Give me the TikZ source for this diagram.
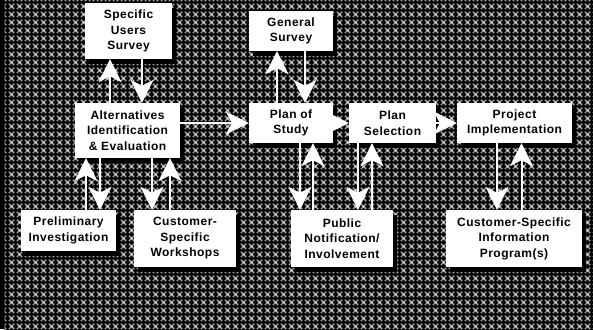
\documentclass[tikz,border=0pt]{standalone}
\usepackage{fontspec}
\setmainfont{Liberation Sans}[LetterSpace=4]
\usetikzlibrary{arrows.meta,patterns.meta}

% woven halftone used as the backdrop
\tikzdeclarepattern{
  name=weave,
  type=colored,
  bounding box={(0pt,0pt) and (8pt,8pt)},
  tile size={(8pt,8pt)},
  code={
    \fill[black] (0pt,0pt) rectangle (8pt,8pt);
    \draw[black!35, line width=1.4pt] (1pt,1pt) -- (7pt,7pt) (1pt,7pt) -- (7pt,1pt);
    \fill[black!5] (4pt,4pt) circle (1pt);
  }
}

\pgfdeclarelayer{bg}
\pgfdeclarelayer{shade}
\pgfdeclarelayer{links}
\pgfsetlayers{bg,shade,links,main}

\begin{document}
\begin{tikzpicture}[x=1pt,y=-1pt,
  box/.style={fill=white, align=center, inner sep=0pt,
    font=\bfseries\fontsize{12}{15.5}\selectfont},
  link/.style={draw=white, line width=2pt,
    -{Stealth[length=23pt,width=23pt,inset=6pt]}},
  shadowbox/.style={fill=black}]

\useasboundingbox (0,0) rectangle (593,329);

\begin{pgfonlayer}{bg}
  \fill[black] (0,0) rectangle (593,329);
  \fill[pattern=weave] (4.5,0) rectangle (593,329);
\end{pgfonlayer}

% process boxes
\node[box, minimum width=87pt,  minimum height=56pt] (survey) at (128.5,31)  {Specific\\Users\\Survey};
\node[box, minimum width=105pt, minimum height=55pt] (alt)    at (127.5,130.5) {Alternatives\\Identification\\\& Evaluation};
\node[box, minimum width=84pt,  minimum height=40pt] (gen)    at (291,31)    {General\\Survey};
\node[box, minimum width=84pt,  minimum height=40pt] (study)  at (291,123)   {Plan of\\Study};
\node[box, minimum width=87pt,  minimum height=40pt] (sel)    at (392.5,123) {Plan\\Selection};
\node[box, minimum width=115pt, minimum height=40pt] (impl)   at (514.5,123) {Project\\Implementation};
\node[box, minimum width=95pt,  minimum height=41pt] (prelim) at (68.5,230.5) {Preliminary\\Investigation};
\node[box, minimum width=102pt, minimum height=57pt] (wksp)   at (185,238.5) {Customer-\\Specific\\Workshops};
\node[box, minimum width=102pt, minimum height=57pt] (pub)    at (342,238.5) {Public\\Notification/\\Involvement};
\node[box, minimum width=136pt, minimum height=57pt] (info)   at (514,238.5) {Customer-Specific\\Information\\Program(s)};

% drop shadows
\begin{pgfonlayer}{shade}
  \foreach \n in {survey,alt,gen,study,sel,impl,prelim,wksp,pub,info}
    \fill[shadowbox] ([shift={(4,5)}]\n.north west) rectangle ([shift={(4,5)}]\n.south east);
\end{pgfonlayer}

% connectors
\begin{pgfonlayer}{links}
  \draw[link] ([xshift=-17.5]alt.north) -- ([xshift=-17.5]alt.north |- survey.south);
  \draw[link] ([xshift=13.5]survey.south) -- ([xshift=13.5]survey.south |- alt.north);
  \draw[link] (alt.east |- study.west) -- (study.west);
  \draw[link] ([xshift=-14]study.north) -- ([xshift=-14]study.north |- gen.south);
  \draw[link] ([xshift=14]gen.south) -- ([xshift=14]gen.south |- study.north);
  \draw[link] (study.east) -- (sel.west);
  \draw[link] (sel.east) -- (impl.west);
  \draw[link] ([xshift=9]study.south) -- ([xshift=9]study.south |- pub.north);
  \draw[link] ([xshift=-29]pub.north) -- ([xshift=-29]pub.north |- study.south);
  \draw[link] ([xshift=-34.5]sel.south) -- ([xshift=-34.5]sel.south |- pub.north);
  \draw[link] ([xshift=30]pub.north) -- ([xshift=30]pub.north |- sel.south);
  \draw[link] ([xshift=-17.5]impl.south) -- ([xshift=-17.5]impl.south |- info.north);
  \draw[link] ([xshift=7.5]info.north) -- ([xshift=7.5]info.north |- impl.south);
  \draw[link] ([xshift=17.5]prelim.north) -- ([xshift=17.5]prelim.north |- alt.south);
  \draw[link] ([xshift=-27.5]alt.south) -- ([xshift=-27.5]alt.south |- prelim.north);
  \draw[link] ([xshift=24.5]alt.south) -- ([xshift=24.5]alt.south |- wksp.north);
  \draw[link] ([xshift=-15]wksp.north) -- ([xshift=-15]wksp.north |- alt.south);
\end{pgfonlayer}
\end{tikzpicture}
\end{document}
